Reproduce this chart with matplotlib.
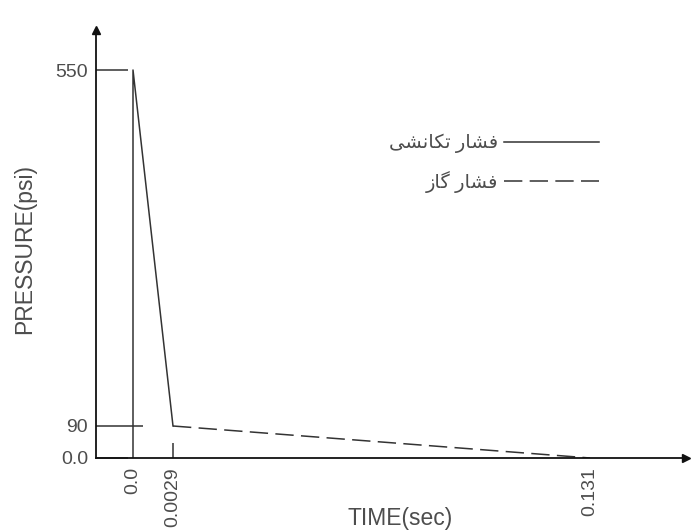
import numpy as np
import matplotlib
matplotlib.use('Agg')
import matplotlib.pyplot as plt

# Datos (diagrama esquematico de presion vs tiempo)
time_impulse = [0.0, 0.0, 0.0029]
p_impulse = [0, 550, 90]
time_gas = [0.0029, 0.131]
p_gas = [90, 0]

x_ticks = [0.0, 0.0029, 0.131]
x_tick_labels = ['0.0', '0.0029', '0.131']
y_ticks = [0, 90, 550]
y_tick_labels = ['0.0', '90', '550']

label_impulse = 'فشار تکانشی'
label_gas = 'فشار گاز'

# El eje no es lineal: cada tick cae en una posicion fija del dibujo (pixeles)
x_tick_px = [133, 173, 590]
y_tick_px = [73, 105, 461]

plt.rcParams['font.family'] = ['Liberation Sans', 'DejaVu Sans']
text_color = '#4d4d4d'
line_color = '#333333'

# formas de presentacion para las letras persas usadas (matplotlib no hace shaping)
FORMS = {
    'ف': ('\uFED1', '\uFED2', '\uFED3', '\uFED4'),
    'ش': ('\uFEB5', '\uFEB6', '\uFEB7', '\uFEB8'),
    'ا': ('\uFE8D', '\uFE8E', None, None),
    'ر': ('\uFEAD', '\uFEAE', None, None),
    'ز': ('\uFEAF', '\uFEB0', None, None),
    'ت': ('\uFE95', '\uFE96', '\uFE97', '\uFE98'),
    'ک': ('\uFB8E', '\uFB8F', '\uFB90', '\uFB91'),
    'ن': ('\uFEE5', '\uFEE6', '\uFEE7', '\uFEE8'),
    'ی': ('\uFBFC', '\uFBFD', '\uFBFE', '\uFBFF'),
    'گ': ('\uFB92', '\uFB93', '\uFB94', '\uFB95'),
}


def shape_fa(s):
    out = []
    for i, ch in enumerate(s):
        if ch not in FORMS:
            out.append(ch)
            continue
        iso, fin, ini, med = FORMS[ch]
        prev = s[i - 1] if i > 0 else ''
        nxt = s[i + 1] if i + 1 < len(s) else ''
        jp = prev in FORMS and FORMS[prev][2] is not None
        jn = nxt in FORMS and ini is not None
        if jp and jn:
            out.append(med)
        elif jp:
            out.append(fin)
        elif jn:
            out.append(ini)
        else:
            out.append(iso)
    return ''.join(reversed(out))


def piecewise(knots, pix):
    knots = np.asarray(knots, float)
    pix = np.asarray(pix, float)

    def fwd(v):
        v = np.asarray(v, float)
        out = np.interp(v, knots, pix)
        s0 = (pix[1] - pix[0]) / (knots[1] - knots[0])
        s1 = (pix[-1] - pix[-2]) / (knots[-1] - knots[-2])
        out = np.where(v < knots[0], pix[0] + (v - knots[0]) * s0, out)
        out = np.where(v > knots[-1], pix[-1] + (v - knots[-1]) * s1, out)
        return out

    def inv(u):
        u = np.asarray(u, float)
        out = np.interp(u, pix, knots)
        s0 = (knots[1] - knots[0]) / (pix[1] - pix[0])
        s1 = (knots[-1] - knots[-2]) / (pix[-1] - pix[-2])
        out = np.where(u < pix[0], knots[0] + (u - pix[0]) * s0, out)
        out = np.where(u > pix[-1], knots[-1] + (u - pix[-1]) * s1, out)
        return out

    return fwd, inv


fig = plt.figure(figsize=(6.94, 5.31), dpi=100)
ax = fig.add_axes([96 / 694, 73 / 531, 590 / 694, 428 / 531])

fx, ix = piecewise(x_ticks, x_tick_px)
fy, iy = piecewise(y_ticks, y_tick_px)
ax.set_xscale('function', functions=(fx, ix))
ax.set_yscale('function', functions=(fy, iy))
ax.set_xlim(float(ix(96)), float(ix(686)))
ax.set_ylim(float(iy(73)), float(iy(501)))

ax.plot(time_impulse, p_impulse, color=line_color, lw=1.1, label=shape_fa(label_impulse))
ax.plot(time_gas, p_gas, color=line_color, lw=1.1, dashes=(12, 4.8), label=shape_fa(label_gas))

# ejes con flechas
for s in ['top', 'right']:
    ax.spines[s].set_visible(False)
for s in ['left', 'bottom']:
    ax.spines[s].set_linewidth(1.3)
    ax.spines[s].set_color('#111111')
ax.plot(1, 0, '>', color='#111111', ms=6, transform=ax.transAxes, clip_on=False)
ax.plot(0, 1, '^', color='#111111', ms=6, transform=ax.transAxes, clip_on=False)

# ticks: los principales sin marca, los menores con marca larga hacia adentro
ax.set_xticks([x_ticks[0], x_ticks[2]], [x_tick_labels[0], x_tick_labels[2]])
ax.set_xticks([x_ticks[1]], [x_tick_labels[1]], minor=True)
ax.set_yticks([y_ticks[0], y_ticks[2]], [y_tick_labels[0], y_tick_labels[2]])
ax.set_yticks([y_ticks[1]], [y_tick_labels[1]], minor=True)

ax.tick_params(axis='x', which='both', direction='in', labelrotation=90,
               labelsize=14, labelcolor=text_color, pad=6.5, color=line_color, width=1.1)
ax.tick_params(axis='x', which='major', length=0)
ax.tick_params(axis='x', which='minor', length=11)
ax.tick_params(axis='y', which='both', direction='in', labelsize=14,
               labelcolor=text_color, pad=5.8, color=line_color, width=1.1)
ax.tick_params(axis='y', which='major', length=23)
ax.tick_params(axis='y', which='minor', length=34)

ax.set_xlabel('TIME(sec)', fontsize=16.5, color=text_color)
ax.xaxis.set_label_coords(0.515, -0.114)
ax.set_ylabel('PRESSURE(psi)', fontsize=16.5, color=text_color)
ax.yaxis.set_label_coords(-0.101, 0.488)

ax.legend(loc='upper right', bbox_to_anchor=(599 / 694, 1 - 134 / 531),
          bbox_transform=fig.transFigure, frameon=False, markerfirst=False,
          fontsize=14, handlelength=4.9, handletextpad=0.3, labelspacing=0.9,
          borderpad=0, borderaxespad=0, labelcolor=text_color)

plt.savefig('out.png', dpi=100)
